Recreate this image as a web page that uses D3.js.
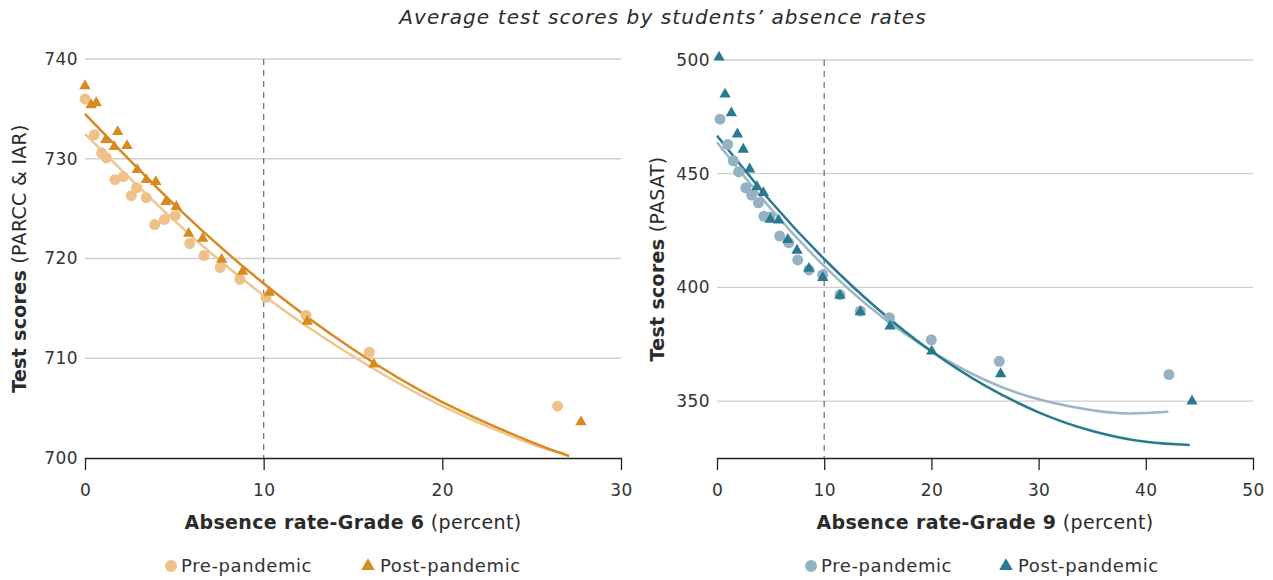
<!DOCTYPE html>
<html>
<head>
<meta charset="utf-8">
<script src="https://cdn.jsdelivr.net/npm/d3@7"></script>
<style>
  body { margin: 0; background: #ffffff; }
  svg text { font-family: "DejaVu Sans", "Open Sans", sans-serif; fill: #2b2b2b; }
</style>
</head>
<body>
<svg id="chart" width="1273" height="580"></svg>
<script>
// ---- Grade 6: PARCC & IAR scores ----
const g6PreRate   = [0, 0.52, 0.93, 1.19, 1.68, 2.14, 2.59, 2.89, 3.43, 3.90, 4.44, 5.05, 5.86, 6.66, 7.57, 8.67, 10.13, 12.37, 15.91, 26.45];
const g6PreScore  = [736.0, 732.4, 730.6, 730.1, 727.9, 728.2, 726.3, 727.1, 726.1, 723.4, 723.9, 724.3, 721.5, 720.3, 719.1, 717.9, 716.1, 714.3, 710.6, 705.2];
const g6PostRate  = [0, 0.34, 0.63, 1.16, 1.64, 1.83, 2.35, 2.93, 3.43, 3.96, 4.53, 5.11, 5.80, 6.59, 7.65, 8.82, 10.31, 12.44, 16.17, 27.76];
const g6PostScore = [737.3, 735.4, 735.6, 731.9, 731.2, 732.7, 731.3, 728.9, 727.9, 727.7, 725.7, 725.2, 722.5, 722.0, 719.9, 718.7, 716.6, 713.7, 709.4, 703.6];
// fitted trend lines, sampled along the absence rate
const g6PreTrendRate   = [0, 5, 10, 15, 20, 25, 26.8];
const g6PreTrend       = [732.5, 723.8, 716.3, 710.2, 705.2, 701.4, 700.5];
const g6PostTrendRate  = [0, 5, 10, 15, 20, 25, 27.1];
const g6PostTrend      = [734.5, 725.4, 717.5, 710.9, 705.6, 701.6, 700.2];
const g6XTicks = [0, 10, 20, 30];
const g6YTicks = [700, 710, 720, 730, 740];

// ---- Grade 9: PASAT scores ----
const g9PreRate   = [0.28, 1.0, 1.52, 2.02, 2.68, 3.23, 3.86, 4.38, 4.94, 5.85, 6.69, 7.53, 8.58, 9.86, 11.47, 13.37, 16.08, 19.99, 26.33, 42.16];
const g9PreScore  = [474.0, 462.9, 455.7, 450.8, 443.8, 440.6, 437.2, 431.3, 431.0, 422.6, 419.7, 412.1, 407.7, 405.6, 396.8, 389.6, 386.7, 377.0, 367.5, 361.7];
const g9PostRate  = [0.19, 0.75, 1.34, 1.90, 2.45, 3.05, 3.73, 4.32, 4.97, 5.75, 6.60, 7.46, 8.58, 9.86, 11.47, 13.37, 16.14, 20.03, 26.46, 44.31];
const g9PostScore = [501.2, 484.9, 476.7, 467.4, 460.7, 452.0, 444.2, 441.6, 429.9, 429.5, 421.0, 416.3, 408.3, 404.3, 396.5, 389.2, 382.9, 371.9, 362.0, 350.0];
const g9PreTrendRate  = [0, 5, 10, 15, 20, 25, 30, 35, 38.5, 42.1];
const g9PreTrend      = [463.8, 434.7, 409.4, 388.5, 372.0, 359.3, 350.8, 346.0, 344.6, 345.3];
const g9PostTrendRate = [0, 5, 10, 15, 20, 25, 30, 35, 40, 44.1];
const g9PostTrend     = [466.7, 437.9, 412.5, 390.5, 371.9, 356.8, 345.1, 336.9, 332.1, 330.7];
const g9XTicks = [0, 10, 20, 30, 40, 50];
const g9YTicks = [350, 400, 450, 500];

const chartTitle = "Average test scores by students\u2019 absence rates";
const legendLabels = ["Pre-pandemic", "Post-pandemic"];
const referenceRate = 10;

const zip = (xs, ys) => xs.map((x, i) => ({ x, y: ys[i] }));

const panels = [
  {
    left: 85, right: 621, top: 59, bottom: 458,
    xDomain: [0, 30], yDomain: [700, 740],
    xTicks: g6XTicks, yTicks: g6YTicks,
    yTitleBold: "Test scores", yTitleRest: " (PARCC & IAR)", yTitleX: 20,
    xTitleBold: "Absence rate-Grade 6", xTitleRest: " (percent)",
    pre: zip(g6PreRate, g6PreScore), post: zip(g6PostRate, g6PostScore),
    preTrend: zip(g6PreTrendRate, g6PreTrend), postTrend: zip(g6PostTrendRate, g6PostTrend),
    preColor: "#eec188", postColor: "#d8891f",
    preLine: "#f0c68f", postLine: "#d8891f",
    legendX: [171, 368]
  },
  {
    left: 717, right: 1253, top: 60, bottom: 458,
    xDomain: [0, 50], yDomain: [325, 500],
    xTicks: g9XTicks, yTicks: g9YTicks,
    yTitleBold: "Test scores", yTitleRest: " (PASAT)", yTitleX: 658,
    xTitleBold: "Absence rate-Grade 9", xTitleRest: " (percent)",
    pre: zip(g9PreRate, g9PreScore), post: zip(g9PostRate, g9PostScore),
    preTrend: zip(g9PreTrendRate, g9PreTrend), postTrend: zip(g9PostTrendRate, g9PostTrend),
    preColor: "#95b2c4", postColor: "#2a7a8f",
    preLine: "#9bb6c7", postLine: "#2a7a8f",
    legendX: [811, 1006]
  }
];

const svg = d3.select("#chart");

svg.append("text")
  .attr("x", 663).attr("y", 24)
  .attr("text-anchor", "middle")
  .style("font-size", "20px").style("font-style", "italic")
  .style("letter-spacing", "1.1px")
  .text(chartTitle);

panels.forEach(p => {
  const x = d3.scaleLinear().domain(p.xDomain).range([p.left, p.right]);
  const y = d3.scaleLinear().domain(p.yDomain).range([p.bottom, p.top]);
  const g = svg.append("g");

  // horizontal gridlines with value labels
  const yAxis = d3.axisLeft(y).tickValues(p.yTicks).tickSize(0).tickPadding(7);
  const ya = g.append("g").attr("transform", `translate(${p.left},0)`).call(yAxis);
  ya.select(".domain").remove();
  ya.selectAll("text").style("font-size", "17px").style("fill", "#333")
    .style("letter-spacing", "0.4px")
    .style("font-family", "'DejaVu Sans', sans-serif");
  g.append("g").selectAll("line")
    .data(p.yTicks.filter(t => t !== p.yDomain[0]))
    .join("line")
    .attr("x1", p.left).attr("x2", p.right)
    .attr("y1", d => y(d)).attr("y2", d => y(d))
    .attr("stroke", "#cfcfcf").attr("stroke-width", 1.3);

  // dashed reference at 10 percent
  g.append("line")
    .attr("x1", x(referenceRate)).attr("x2", x(referenceRate))
    .attr("y1", p.top).attr("y2", p.bottom)
    .attr("stroke", "#777").attr("stroke-width", 1.3)
    .attr("stroke-dasharray", "6,5");

  // x axis
  const xAxis = d3.axisBottom(x).tickValues(p.xTicks).tickSize(12).tickPadding(14).tickSizeOuter(0);
  const xa = g.append("g").attr("transform", `translate(0,${p.bottom})`).call(xAxis);
  xa.select(".domain").attr("stroke", "#222").attr("stroke-width", 1.3);
  xa.selectAll(".tick line").attr("stroke", "#222").attr("stroke-width", 1.3);
  xa.selectAll("text").style("font-size", "17px").style("fill", "#333")
    .style("letter-spacing", "0.4px")
    .style("font-family", "'DejaVu Sans', sans-serif");

  // trend lines
  const line = d3.line().x(d => x(d.x)).y(d => y(d.y)).curve(d3.curveNatural);
  g.append("path").datum(p.preTrend).attr("d", line)
    .attr("fill", "none").attr("stroke", p.preLine).attr("stroke-width", 2.5);
  g.append("path").datum(p.postTrend).attr("d", line)
    .attr("fill", "none").attr("stroke", p.postLine).attr("stroke-width", 2.5);

  // observations
  g.append("g").selectAll("circle").data(p.pre).join("circle")
    .attr("cx", d => x(d.x)).attr("cy", d => y(d.y)).attr("r", 5.5)
    .attr("fill", p.preColor);
  const tri = d3.symbol().type(d3.symbolTriangle).size(56);
  g.append("g").selectAll("path").data(p.post).join("path")
    .attr("transform", d => `translate(${x(d.x)},${y(d.y)})`)
    .attr("d", tri).attr("fill", p.postColor);

  // axis titles
  const yt = g.append("text")
    .attr("transform", `translate(${p.yTitleX},${(p.top + p.bottom) / 2}) rotate(-90)`)
    .attr("text-anchor", "middle").attr("dominant-baseline", "middle")
    .style("font-size", "19px").style("letter-spacing", "0.3px");
  yt.append("tspan").style("font-weight", 700).text(p.yTitleBold);
  yt.append("tspan").style("font-weight", 400).text(p.yTitleRest);

  const xt = g.append("text")
    .attr("x", (p.left + p.right) / 2).attr("y", 529)
    .attr("text-anchor", "middle")
    .style("font-size", "19px").style("letter-spacing", "0.35px");
  xt.append("tspan").style("font-weight", 700).text(p.xTitleBold);
  xt.append("tspan").style("font-weight", 400).text(p.xTitleRest);

  // legend
  const lg = g.append("g");
  lg.append("circle").attr("cx", p.legendX[0]).attr("cy", 566).attr("r", 6).attr("fill", p.preColor);
  lg.append("text").attr("x", p.legendX[0] + 10).attr("y", 572)
    .style("font-size", "18px").style("letter-spacing", "0.6px")
    .style("fill", "#333").text(legendLabels[0]);
  lg.append("path").attr("transform", `translate(${p.legendX[1]},${566})`)
    .attr("d", d3.symbol().type(d3.symbolTriangle).size(80)).attr("fill", p.postColor);
  lg.append("text").attr("x", p.legendX[1] + 12).attr("y", 572)
    .style("font-size", "18px").style("letter-spacing", "0.6px")
    .style("fill", "#333").text(legendLabels[1]);
});
</script>
</body>
</html>
